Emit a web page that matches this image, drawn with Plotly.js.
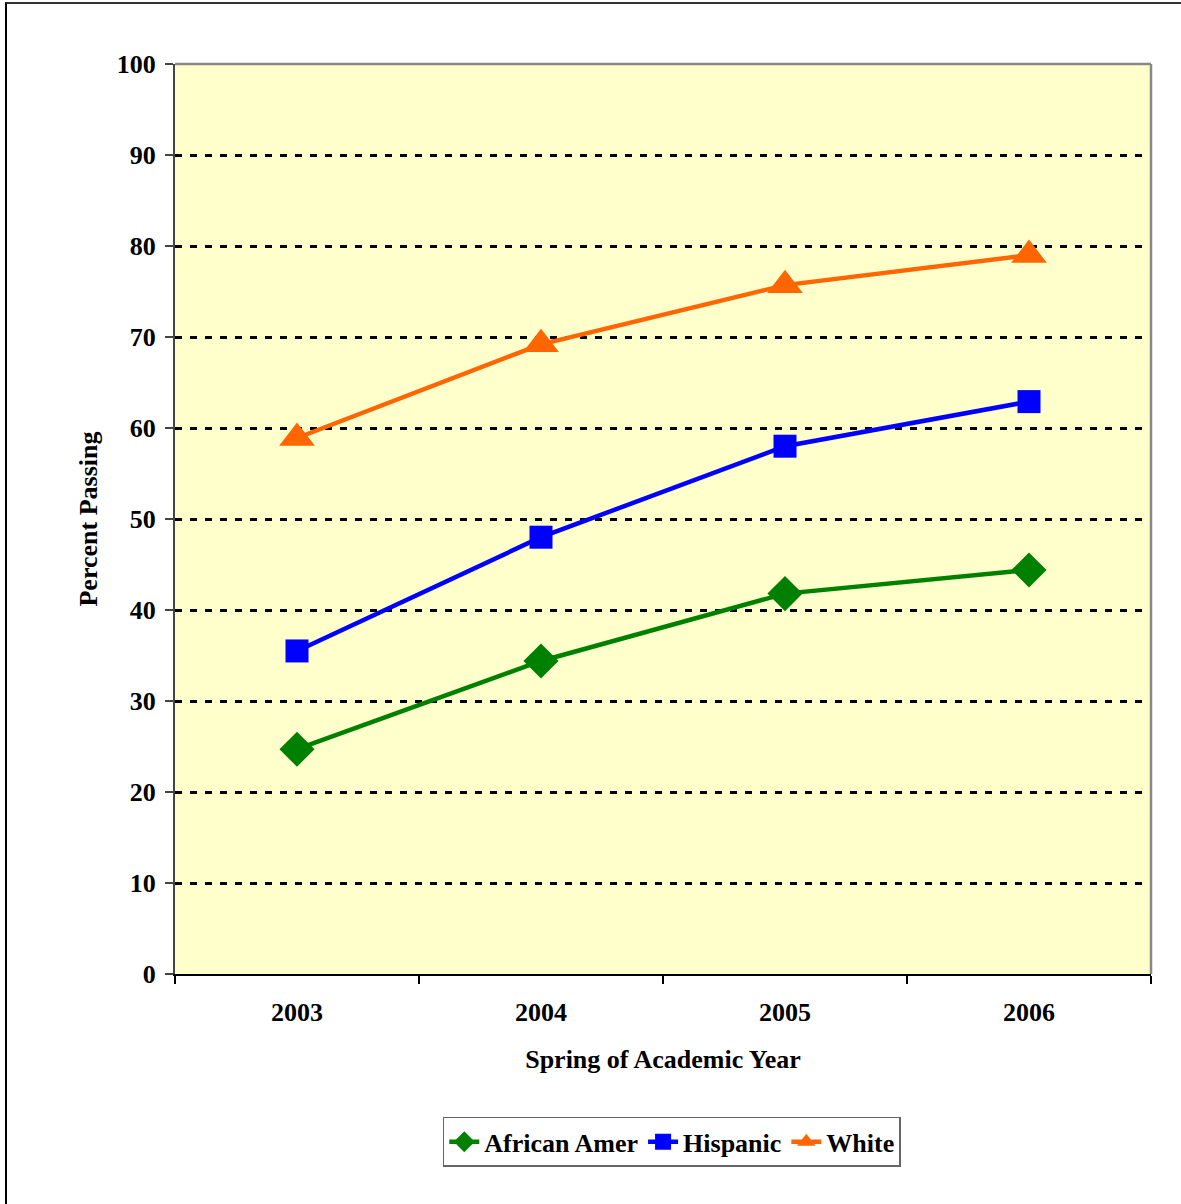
<!DOCTYPE html>
<html>
<head>
<meta charset="utf-8">
<script src="https://cdn.plot.ly/plotly-3.0.1.min.js"></script>
<style>
  html, body { margin: 0; padding: 0; background: #fff; }
  #frame { position: absolute; left: 5px; top: 2px; width: 1176px; height: 1202px;
           border-left: 2px solid #000; border-top: 2px solid #333; box-sizing: border-box; pointer-events: none; z-index: 5; }
  #chart { width: 1181px; height: 1204px; }
</style>
</head>
<body>
<div id="frame"></div>
<div id="chart"></div>
<script>
const years = ["2003", "2004", "2005", "2006"];
const africanAmer = [24.7, 34.4, 41.8, 44.4];
const hispanic = [35.5, 48.0, 58.0, 62.9];
const white = [58.9, 69.2, 75.7, 79.0];
const yTicks = [0, 10, 20, 30, 40, 50, 60, 70, 80, 90, 100];

const font = "Liberation Serif";

const traces = [
  { name: "African Amer", x: years, y: africanAmer, type: "scatter", mode: "lines+markers",
    line: { color: "#008000", width: 4.5 },
    marker: { symbol: "diamond", size: 27, color: "#008000" } },
  { name: "Hispanic", x: years, y: hispanic, type: "scatter", mode: "lines+markers",
    line: { color: "#0000FF", width: 4.5 },
    marker: { symbol: "square", size: 23, color: "#0000FF" } },
  { name: "White", x: years, y: white, type: "scatter", mode: "lines+markers",
    line: { color: "#FF6600", width: 4.5 },
    marker: { symbol: "triangle-up", size: 31, color: "#FF6600" } }
];

const layout = {
  width: 1181, height: 1204,
  margin: { l: 175, r: 30, t: 64, b: 230 },
  paper_bgcolor: "#ffffff",
  plot_bgcolor: "#FFFFCC",
  font: { family: font, color: "#000", size: 26 },
  showlegend: true,
  legend: {
    orientation: "h", x: 0.509, xanchor: "center", y: -0.157, yanchor: "top",
    bordercolor: "#666", borderwidth: 1.5, bgcolor: "#fff",
    font: { family: font, size: 26, color: "#000", weight: "bold" },
    tracegroupgap: 0
  },
  xaxis: {
    type: "category", range: [-0.5, 3.5],
    showline: true, linecolor: "#000", linewidth: 2,
    ticks: "outside", ticklen: 8, tickcolor: "#000", tickwidth: 1.5,
    tickson: "boundaries", showgrid: false, zeroline: false,
    tickfont: { family: font, size: 26, weight: "bold" },
    ticklabelstandoff: 14,
    title: { text: "<b>Spring of Academic Year</b>", font: { family: font, size: 26 }, standoff: 24 }
  },
  yaxis: {
    range: [0, 100], tickvals: yTicks, ticktext: yTicks.map(String),
    showline: true, linecolor: "#444", linewidth: 2,
    ticks: "outside", ticklen: 8, tickcolor: "#444", tickwidth: 1.5,
    showgrid: true, gridcolor: "#000", gridwidth: 3, griddash: "7px,8px",
    zeroline: false,
    tickfont: { family: font, size: 26, weight: "bold" },
    ticklabelstandoff: 4,
    title: { text: "<b>Percent Passing</b>", font: { family: font, size: 26 }, standoff: 12 }
  },
  shapes: [
    { type: "line", xref: "paper", yref: "paper", x0: 0, x1: 1, y0: 1, y1: 1, line: { color: "#888", width: 2.5 } },
    { type: "line", xref: "paper", yref: "paper", x0: 1, x1: 1, y0: 0, y1: 1, line: { color: "#888", width: 2.5 } }
  ]
};

Plotly.newPlot("chart", traces, layout, { displayModeBar: false, staticPlot: true });
</script>
</body>
</html>
